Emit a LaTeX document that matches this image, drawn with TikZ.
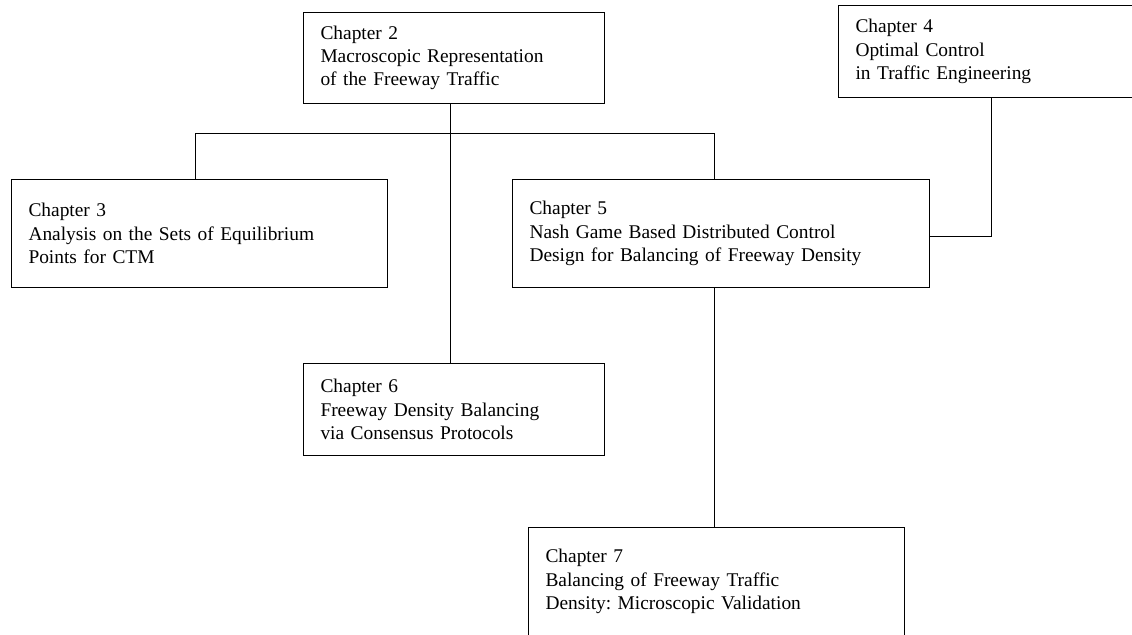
\documentclass[tikz,border=0pt]{standalone}
\usepackage{fontspec}
\setmainfont{Liberation Serif}
\usepackage{tikz}
\frenchspacing

\tikzset{
  chapbox/.style={draw, line width=0.5pt, anchor=north west, align=left,
    inner xsep=8.5pt, inner ysep=0pt,
    font=\fontsize{9.7pt}{11.6pt}\selectfont},
  link/.style={line width=0.5pt}
}

\begin{document}
\begin{tikzpicture}[x=0.5pt,y=-0.5pt]
\useasboundingbox (0,0) rectangle (1132,634);

% Chapter boxes
\node[chapbox, text width=133.5pt, minimum height=45.5pt] (ch2) at (303,12)
  {Chapter 2\\Macroscopic Representation\\of the Freeway Traffic};
\node[chapbox, text width=134pt, minimum height=46pt] (ch4) at (838,5)
  {Chapter 4\\Optimal Control\\in Traffic Engineering};
\node[chapbox, text width=171pt, minimum height=54pt] (ch3) at (11,179)
  {Chapter 3\\Analysis on the Sets of Equilibrium\\Points for CTM};
\node[chapbox, text width=191.5pt, minimum height=54pt] (ch5) at (512,179)
  {Chapter 5\\Nash Game Based Distributed Control\\Design for Balancing of Freeway Density};
\node[chapbox, text width=133.5pt, minimum height=46pt] (ch6) at (303,363)
  {Chapter 6\\Freeway Density Balancing\\via Consensus Protocols};
\node[chapbox, text width=171pt, minimum height=54pt] (ch7) at (528,527)
  {Chapter 7\\Balancing of Freeway Traffic\\Density: Microscopic Validation};

% Junctions
\coordinate (j2) at (450,133);
\coordinate (j3) at (195,133);
\coordinate (j5) at (714,133);
\coordinate (j4) at (991,236);

% Connectors
\draw[link] (ch2.south -| j2) -- (ch6.north -| j2);
\draw[link] (ch3.north -| j3) -- (j3) -- (j5) -- (ch5.north -| j5);
\draw[link] (ch5.south -| j5) -- (ch7.north -| j5);
\draw[link] (ch4.south -| j4) -- (j4) -- (j4 -| ch5.east);
\end{tikzpicture}
\end{document}
